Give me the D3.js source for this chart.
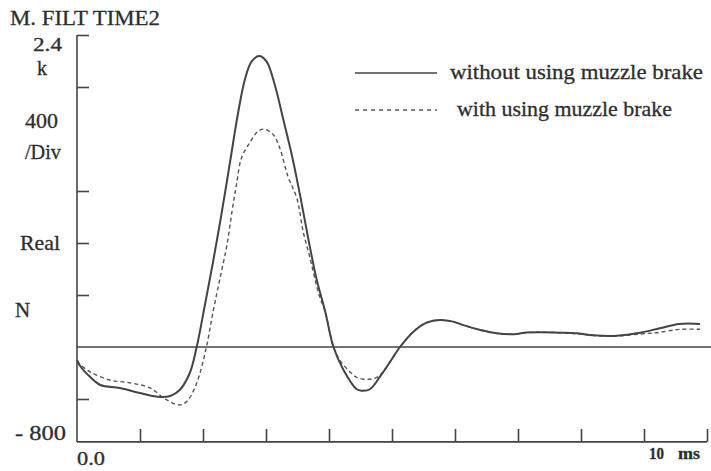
<!DOCTYPE html>
<html>
<head>
<meta charset="utf-8">
<script src="https://cdn.jsdelivr.net/npm/d3@7"></script>
<style>
  body { margin: 0; background: #fff; }
  svg { display: block; }
  text { font-family: "Liberation Serif", "DejaVu Serif", serif; fill: #2e2e2e; stroke: #2e2e2e; stroke-width: 0.3px; }
</style>
</head>
<body>
<svg id="chart" width="711" height="471"></svg>
<script>
// time in ms, force in N
const timeWithout = [0, 0.05, 0.21, 0.37, 0.68, 1.0, 1.32, 1.48, 1.63, 1.79, 1.9, 2.03, 2.16, 2.3, 2.43, 2.56, 2.67, 2.77, 2.89, 3.01, 3.14, 3.27, 3.41, 3.54, 3.67, 3.8, 3.94, 4.07, 4.23, 4.44, 4.52, 4.65, 4.81, 4.97, 5.13, 5.34, 5.55, 5.76, 5.97, 6.12, 6.4, 6.66, 6.98, 7.1, 7.35, 7.67, 7.93, 8.2, 8.57, 8.94, 9.25, 9.56, 9.89];
const forceWithout = [-100, -146, -231, -292, -315, -354, -385, -377, -331, -200, 0, 323, 656, 1041, 1425, 1810, 2067, 2195, 2238, 2195, 2015, 1759, 1477, 1169, 836, 528, 272, 2, -177, -325, -336, -325, -228, -113, 2, 118, 187, 208, 195, 170, 131, 105, 100, 110, 113, 110, 105, 90, 87, 110, 144, 177, 177];

const timeWith = [0, 0.05, 0.21, 0.52, 0.83, 1.16, 1.4, 1.63, 1.75, 1.9, 2.05, 2.16, 2.27, 2.38, 2.46, 2.53, 2.61, 2.75, 2.88, 2.98, 3.12, 3.22, 3.35, 3.49, 3.59, 3.7, 3.8, 3.86, 3.94, 4.07, 4.17, 4.33, 4.44, 4.6, 4.76, 4.86, 4.97, 5.13, 5.34, 5.55, 5.76, 5.97, 6.12, 6.4, 6.66, 6.98, 7.1, 7.35, 7.67, 7.93, 8.2, 8.57, 8.94, 9.2, 9.57, 9.89];
const forceWith = [-110, -135, -192, -254, -275, -315, -400, -446, -415, -277, -10, 272, 528, 785, 1041, 1246, 1452, 1579, 1662, 1675, 1631, 1528, 1310, 1144, 887, 682, 477, 375, 272, 2, -100, -190, -233, -249, -233, -190, -113, 2, 118, 187, 208, 195, 170, 131, 105, 100, 110, 113, 110, 103, 88, 85, 100, 110, 136, 136];

const xTicks = [1, 2, 3, 4, 5, 6, 7, 8, 9, 10];
const yTicks = [2400, 2000, 1200, 800, 400, -400];
const seriesNames = ["without using muzzle brake", "with using muzzle brake"];

const svg = d3.select("#chart");
const W = +svg.attr("width");

const x = d3.scaleLinear().domain([0, 10]).range([77, 707]);
const y = d3.scaleLinear().domain([-800, 2400]).range([451, 35]);
const baseValue = -730; // the scanned baseline sits a bit above -800

const ink = "#444";

// left axis line + ticks pointing inward
svg.append("line")
  .attr("x1", x(0)).attr("x2", x(0))
  .attr("y1", y(2400)).attr("y2", y(baseValue))
  .attr("stroke", ink).attr("stroke-width", 1.6);

svg.append("g")
  .attr("transform", `translate(${x(0)},0)`)
  .call(d3.axisRight(y).tickValues(yTicks).tickSize(12).tickFormat(""))
  .call(g => g.select(".domain").remove())
  .call(g => g.selectAll("line").attr("stroke", ink).attr("stroke-width", 1.6));

// bottom axis line + ticks pointing up
svg.append("line")
  .attr("x1", x(0)).attr("x2", x(10))
  .attr("y1", y(baseValue)).attr("y2", y(baseValue))
  .attr("stroke", ink).attr("stroke-width", 1.6);

svg.append("g")
  .attr("transform", `translate(0,${y(baseValue)})`)
  .call(d3.axisTop(x).tickValues(xTicks).tickSize(13).tickFormat(""))
  .call(g => g.select(".domain").remove())
  .call(g => g.selectAll("line").attr("stroke", ink).attr("stroke-width", 1.6));

// zero line
svg.append("line")
  .attr("x1", x(0)).attr("x2", W)
  .attr("y1", y(0)).attr("y2", y(0))
  .attr("stroke", ink).attr("stroke-width", 1.6);

// curves
const line = d3.line().curve(d3.curveCatmullRom.alpha(0.5));
const ptsWithout = timeWithout.map((t, i) => [x(t), y(forceWithout[i])]);
const ptsWith = timeWith.map((t, i) => [x(t), y(forceWith[i])]);

svg.append("path")
  .attr("d", line(ptsWith))
  .attr("fill", "none").attr("stroke", "#555")
  .attr("stroke-width", 1.4).attr("stroke-dasharray", "4,3");

svg.append("path")
  .attr("d", line(ptsWithout))
  .attr("fill", "none").attr("stroke", ink)
  .attr("stroke-width", 2);

// legend
const legend = svg.append("g");
legend.append("line").attr("x1", 355).attr("x2", 437).attr("y1", 73).attr("y2", 73)
  .attr("stroke", ink).attr("stroke-width", 1.6);
legend.append("text").attr("x", 450).attr("y", 79)
  .attr("textLength", 253).attr("lengthAdjust", "spacingAndGlyphs")
  .style("font-size", "21px").text(seriesNames[0]);
legend.append("line").attr("x1", 355).attr("x2", 437).attr("y1", 110).attr("y2", 110)
  .attr("stroke", "#555").attr("stroke-width", 1.3).attr("stroke-dasharray", "4,4");
legend.append("text").attr("x", 457).attr("y", 116)
  .attr("textLength", 215).attr("lengthAdjust", "spacingAndGlyphs")
  .style("font-size", "21px").text(seriesNames[1]);

// axis annotation text
const labels = [
  { t: "M. FILT TIME2", x: 10, y: 25, size: 21, w: 150 },
  { t: "2.4", x: 33, y: 51, size: 19, w: 29 },
  { t: "k", x: 37, y: 75, size: 20 },
  { t: "400", x: 25, y: 128, size: 21, w: 33 },
  { t: "/Div", x: 25, y: 159, size: 21, w: 36 },
  { t: "Real", x: 20, y: 250, size: 21, w: 40 },
  { t: "N", x: 15, y: 317, size: 21 },
  { t: "- 800", x: 15, y: 440, size: 21, w: 51 },
  { t: "0.0", x: 77, y: 465, size: 19, w: 28 },
  { t: "10", x: 649, y: 459, size: 16, w: 15 },
  { t: "ms", x: 678, y: 459, size: 16, w: 22 }
];
svg.append("g").selectAll("text").data(labels).join("text")
  .attr("x", d => d.x).attr("y", d => d.y)
  .attr("textLength", d => d.w || null)
  .attr("lengthAdjust", "spacingAndGlyphs")
  .style("font-size", d => d.size + "px")
  .style("font-weight", d => d.size < 18 ? "bold" : "normal")
  .text(d => d.t);
</script>
</body>
</html>
